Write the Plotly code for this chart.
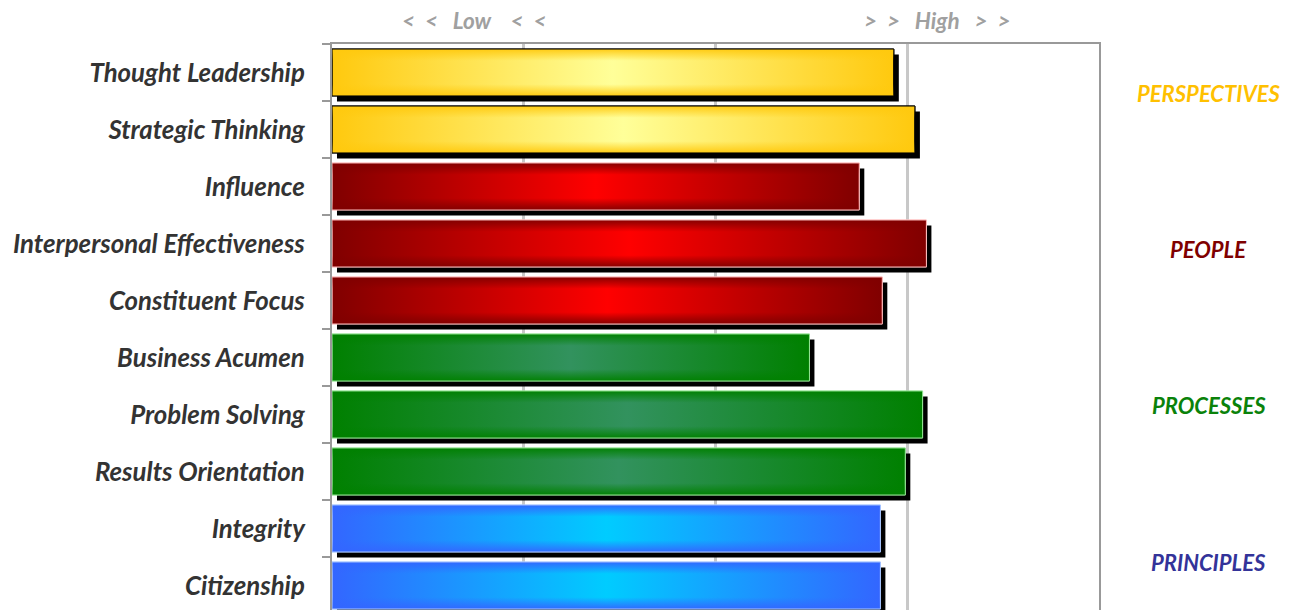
import plotly.graph_objects as go

categories = ["Thought Leadership", "Strategic Thinking", "Influence",
              "Interpersonal Effectiveness", "Constituent Focus", "Business Acumen",
              "Problem Solving", "Results Orientation", "Integrity", "Citizenship"]
values = [2.93, 3.04, 2.75, 3.10, 2.87, 2.49, 3.08, 2.99, 2.86, 2.86]
groups = ["PERSPECTIVES", "PERSPECTIVES", "PEOPLE", "PEOPLE", "PEOPLE",
          "PROCESSES", "PROCESSES", "PROCESSES", "PRINCIPLES", "PRINCIPLES"]
group_names = ["PERSPECTIVES", "PEOPLE", "PROCESSES", "PRINCIPLES"]
group_label_pos = [0.36, 3.11, 5.85, 8.6]

# styles
edge = {"PERSPECTIVES": (255, 201, 14), "PEOPLE": (128, 0, 0),
        "PROCESSES": (0, 128, 0), "PRINCIPLES": (51, 102, 255)}
center = {"PERSPECTIVES": (255, 255, 153), "PEOPLE": (255, 0, 0),
          "PROCESSES": (50, 146, 94), "PRINCIPLES": (0, 204, 255)}
outline = {"PERSPECTIVES": "#000000", "PEOPLE": "rgba(255,190,190,0.9)",
           "PROCESSES": "rgba(150,230,150,0.9)", "PRINCIPLES": "rgba(170,200,255,0.9)"}
label_color = {"PERSPECTIVES": "#FFC000", "PEOPLE": "#7F0000",
               "PROCESSES": "#0A820A", "PRINCIPLES": "#333399"}

def rgb(c, a=1.0):
    return f"rgba({c[0]},{c[1]},{c[2]},{a})"

HALF = 0.412
SDX, SDY = 0.026, 0.095

fig = go.Figure()
for i, (cat, v, g) in enumerate(zip(categories, values, groups)):
    y0, y1 = i - HALF, i + HALF
    # shadow
    fig.add_trace(go.Scatter(
        x=[SDX, v + SDX, v + SDX, SDX, SDX],
        y=[y0 + SDY, y0 + SDY, y1 + SDY, y1 + SDY, y0 + SDY],
        fill="toself", fillcolor="#000000", mode="lines",
        line=dict(width=0), hoverinfo="skip", showlegend=False))
    # main bar, horizontal gradient
    fig.add_trace(go.Scatter(
        x=[0, v, v, 0, 0], y=[y0, y0, y1, y1, y0],
        fill="toself", mode="lines",
        fillgradient=dict(type="horizontal",
                          colorscale=[[0, rgb(edge[g])], [0.5, rgb(center[g])], [1, rgb(edge[g])]]),
        line=dict(width=1, color=outline[g]),
        name=cat, hovertemplate=f"{cat}: {v}<extra></extra>", showlegend=False))
    # vertical shading overlay
    fig.add_trace(go.Scatter(
        x=[0, v, v, 0, 0], y=[y0, y0, y1, y1, y0],
        fill="toself", mode="lines",
        fillgradient=dict(type="vertical",
                          colorscale=[[0, rgb(edge[g], 0.95)], [0.25, rgb(edge[g], 0.0)],
                                      [0.75, rgb(edge[g], 0.0)], [1, rgb(edge[g], 0.95)]]),
        line=dict(width=1, color=outline[g]),
        hoverinfo="skip", showlegend=False))

label_font = dict(family="Lato, 'Open Sans', sans-serif", size=25.8, color="#333333",
                  weight="bold", style="italic")

fig.update_layout(
    width=1289, height=610,
    margin=dict(l=332, r=190, t=44, b=0),
    plot_bgcolor="white", paper_bgcolor="white",
    xaxis=dict(range=[0, 4], dtick=1, tick0=0, showticklabels=False, ticks="",
               showgrid=True, gridcolor="#C8C8C8", gridwidth=3,
               side="top", showline=True, linecolor="#999999", linewidth=2,
               mirror=False, zeroline=False, fixedrange=True),
    yaxis=dict(range=[9.43, -0.5], tickmode="array",
               tickvals=list(range(len(categories))), ticktext=categories,
               tickfont=label_font, ticks="", ticklabelstandoff=20,
               showgrid=False, zeroline=False,
               showline=True, linecolor="#999999", linewidth=2, mirror=True,
               minor=dict(tickmode="array",
                          tickvals=[k + 0.5 for k in range(-1, len(categories))],
                          ticks="outside", ticklen=8, tickcolor="#999999", tickwidth=2,
                          showgrid=False),
               fixedrange=True),
    showlegend=False,
)

hdr_font = dict(family="Lato, 'Open Sans', sans-serif", size=22.5, color="#A0A0A0",
                weight="bold", style="italic")
fig.add_annotation(text="&lt;\u00a0\u00a0&lt;\u00a0\u00a0\u00a0Low\u00a0\u00a0\u00a0\u00a0&lt;\u00a0\u00a0&lt;",
                   xref="paper", yref="paper", x=0.185, y=1.042,
                   xanchor="center", yanchor="middle", showarrow=False, font=hdr_font)
fig.add_annotation(text="&gt;\u00a0\u00a0&gt;\u00a0\u00a0\u00a0High\u00a0\u00a0\u00a0&gt;\u00a0\u00a0&gt;",
                   xref="paper", yref="paper", x=0.789, y=1.042,
                   xanchor="center", yanchor="middle", showarrow=False, font=hdr_font)

for name, pos in zip(group_names, group_label_pos):
    fig.add_annotation(text=name, xref="paper", yref="y", x=1.143, y=pos,
                       xanchor="center", yanchor="middle", showarrow=False,
                       font=dict(family="Lato, 'Open Sans', sans-serif", size=22,
                                 color=label_color[name], weight="bold", style="italic"))

fig.write_html("out.html")
